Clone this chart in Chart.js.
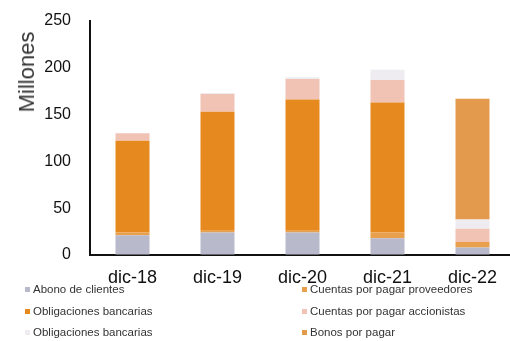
<!DOCTYPE html>
<html>
<head>
<meta charset="utf-8">
<script src="https://cdn.jsdelivr.net/npm/chart.js@4"></script>
<style>
    html, body { margin: 0; padding: 0; background: #fff; overflow: hidden; }
    #wrap { position: absolute; left: 0; top: 0; width: 515px; height: 290px; }
    #ytitle {
        position: absolute; left: 27px; top: 72px; transform: translate(-50%, -50%) rotate(-90deg);
        font-family: "Liberation Sans", Arial, sans-serif; font-size: 22px; color: #333; white-space: nowrap;
    }
    #legend {
        position: absolute; left: 25px; top: 282px; width: 480px;
        display: grid; grid-template-columns: 277px 200px; row-gap: 7.5px;
        font-family: "Liberation Sans", Arial, sans-serif; font-size: 11.5px; color: #333;
    }
    #legend div { height: 14px; line-height: 14px; white-space: nowrap; }
    #legend span.box { display: inline-block; width: 5px; height: 5px; margin-right: 3px; vertical-align: middle; }
</style>
</head>
<body>
<div id="wrap"><canvas id="chart"></canvas></div>
<div id="ytitle">Millones</div>
<div id="legend"></div>
<script>
// Datos (millones)
const categorias = ['dic-18', 'dic-19', 'dic-20', 'dic-21', 'dic-22'];
const yTicks = [0, 50, 100, 150, 200, 250];

const abonoClientes = [21, 24, 24, 18, 8];
const cuentasProveedores = [3, 2, 2, 6, 6];
const obligacionesBancarias = [98, 127, 140, 139, 0];
const cuentasAccionistas = [8, 19, 22, 24, 14];
const obligacionesBancarias2 = [0, 1, 2, 11, 10];
const bonosPorPagar = [0, 0, 0, 0, 129];

const series = [
    { label: 'Abono de clientes', data: abonoClientes, color: '#b9b9cc' },
    { label: 'Cuentas por pagar proveedores', data: cuentasProveedores, color: '#e9a04c' },
    { label: 'Obligaciones bancarias', data: obligacionesBancarias, color: '#e6891f' },
    { label: 'Cuentas por pagar accionistas', data: cuentasAccionistas, color: '#f0c3b4' },
    { label: 'Obligaciones bancarias', data: obligacionesBancarias2, color: '#eeecf0' },
    { label: 'Bonos por pagar', data: bonosPorPagar, color: '#e39a4c' }
];

const ctx = document.getElementById('chart');
new Chart(ctx, {
    type: 'bar',
    data: {
        labels: categorias,
        datasets: series.map(s => ({
            label: s.label,
            data: s.data,
            backgroundColor: s.color,
            borderWidth: 0,
            categoryPercentage: 1,
            barPercentage: 0.4
        }))
    },
    options: {
        responsive: true,
        maintainAspectRatio: false,
        animation: false,
        layout: { padding: { top: 21, right: 0, left: 0, bottom: 0 } },
        plugins: { legend: { display: false }, tooltip: { enabled: false } },
        scales: {
            x: {
                stacked: true,
                grid: { display: true, drawOnChartArea: false, drawTicks: false },
                border: { display: true, color: '#111', width: 2 },
                ticks: {
                    color: '#111', padding: 12,
                    font: { family: 'Liberation Sans, Arial, sans-serif', size: 18 }
                },
                afterFit: s => { s.height = 35; s.paddingLeft = 0; s.paddingRight = 0; }
            },
            y: {
                stacked: true,
                min: 0, max: 250,
                afterBuildTicks: s => { s.ticks = yTicks.map(v => ({ value: v })); },
                grid: { display: true, drawOnChartArea: false, drawTicks: false },
                border: { display: true, color: '#111', width: 2 },
                ticks: {
                    color: '#111', padding: 19,
                    font: { family: 'Liberation Sans, Arial, sans-serif', size: 16 }
                },
                afterFit: s => { s.width = 90; s.paddingTop = 0; s.paddingBottom = 0; }
            }
        }
    }
});

// Leyenda en dos columnas, como en el original
const legend = document.getElementById('legend');
series.forEach(s => {
    const el = document.createElement('div');
    el.innerHTML = '<span class="box" style="background:' + s.color + '"></span>' + s.label;
    legend.appendChild(el);
});
</script>
</body>
</html>
